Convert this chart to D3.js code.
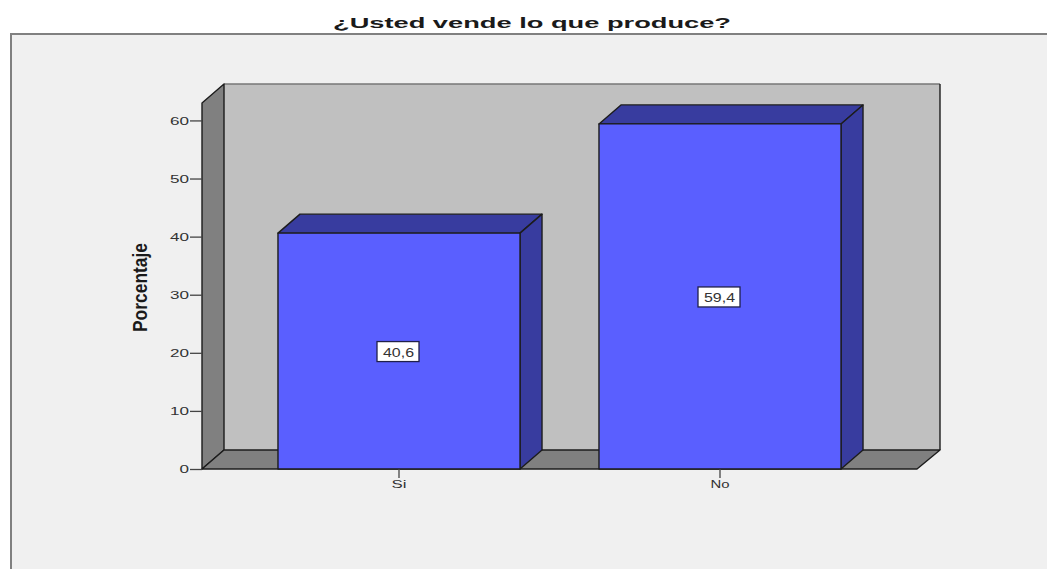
<!DOCTYPE html>
<html>
<head>
<meta charset="utf-8">
<script src="https://cdn.jsdelivr.net/npm/d3@7/dist/d3.min.js"></script>
<style>
  html, body { margin: 0; padding: 0; background: #fff; }
  svg { display: block; }
  text { font-family: "Liberation Sans", Arial, sans-serif; }
</style>
</head>
<body>
<svg id="chart" width="1047" height="569"></svg>
<script>
// Survey answers and their share of respondents
const categories = ["Si", "No"];
const percentages = [40.6, 59.4];
const yTicks = [0, 10, 20, 30, 40, 50, 60];
const yMax = 63;
const chartTitle = "¿Usted vende lo que produce?";
const yTitle = "Porcentaje";

// Layout of the pseudo-3D plot box
const plotLeft = 202, plotRight = 917, plotBase = 469, plotTop = 103;
const depthX = 22, depthY = 19;

const colors = {
  panel: "#f0f0f0", panelEdge: "#808080",
  wall: "#c0c0c0", side: "#808080",
  front: "#5a5fff", shade: "#383c9f",
  line: "#1c1c1c", ink: "#333333"
};

const svg = d3.select("#chart");
const x = d3.scaleBand().domain(categories).range([plotLeft, plotRight])
  .paddingInner(0.246).paddingOuter(0.2367);
const y = d3.scaleLinear().domain([0, yMax]).range([plotBase, plotTop]);

const poly = pts => pts.map(p => p.join(",")).join(" ");

// Panel behind the chart, open on its right and bottom sides
svg.append("rect").attr("x", 11).attr("y", 34).attr("width", 1036).attr("height", 535)
  .attr("fill", colors.panel);
svg.append("path").attr("d", "M11,569V34H1047").attr("fill", "none")
  .attr("stroke", colors.panelEdge).attr("stroke-width", 2);

// Title, stretched wide
svg.append("text").attr("x", 333).attr("y", 28)
  .attr("textLength", 398).attr("lengthAdjust", "spacingAndGlyphs")
  .attr("font-size", 15.5).attr("font-weight", "bold").attr("fill", "#1a1a1a")
  .text(chartTitle);

// Back wall, side wall and floor
const backL = plotLeft + depthX, backR = plotRight + depthX + 1, backB = plotBase - depthY, backT = plotTop - depthY;
const edge = s => s.attr("stroke", colors.line).attr("stroke-width", 1.4).attr("stroke-linejoin", "round");
svg.append("polygon").attr("points", poly([[backL, backT], [backR, backT], [backR, backB], [backL, backB]]))
  .attr("fill", colors.wall).attr("stroke", "none");
svg.append("path").attr("d", `M${backL},${backT}H${backR}`).attr("stroke", "#777").attr("stroke-width", 1.4);
svg.append("path").attr("d", `M${backR},${backT}V${backB}`).attr("stroke", colors.line).attr("stroke-width", 1.4);
svg.append("polygon").attr("points", poly([[plotLeft, plotTop], [backL, backT], [backL, backB], [plotLeft, plotBase]]))
  .attr("fill", colors.side).call(edge);
svg.append("polygon").attr("points", poly([[plotLeft, plotBase], [backL, backB], [backR, backB], [plotRight, plotBase]]))
  .attr("fill", colors.side).call(edge);

// Bars: top face, side face, front face
const bars = svg.append("g").selectAll("g").data(categories).join("g");
const bx = d => x(d), bw = x.bandwidth();
const val = d => percentages[categories.indexOf(d)];
bars.append("polygon").attr("fill", colors.shade).call(edge)
  .attr("points", d => poly([[bx(d), y(val(d))], [bx(d) + depthX, y(val(d)) - depthY],
    [bx(d) + bw + depthX, y(val(d)) - depthY], [bx(d) + bw, y(val(d))]]));
bars.append("polygon").attr("fill", colors.shade).call(edge)
  .attr("points", d => poly([[bx(d) + bw, y(val(d))], [bx(d) + bw + depthX, y(val(d)) - depthY],
    [bx(d) + bw + depthX, plotBase - depthY], [bx(d) + bw, plotBase]]));
bars.append("rect").attr("fill", colors.front).call(edge)
  .attr("x", bx).attr("y", d => y(val(d))).attr("width", bw).attr("height", d => plotBase - y(val(d)));

// Value labels in white boxes at mid-height of each bar
const labels = bars.append("g")
  .attr("transform", d => `translate(${bx(d) + bw / 2 - 1},${y(val(d) / 2) + 0.5})`);
labels.append("rect").attr("x", -21).attr("y", -10).attr("width", 42).attr("height", 20)
  .attr("fill", "#fff").attr("stroke", "#20204a").attr("stroke-width", 1.3);
labels.append("text").attr("x", -15).attr("y", 5)
  .attr("textLength", 31).attr("lengthAdjust", "spacingAndGlyphs")
  .attr("font-size", 12).attr("fill", colors.ink)
  .text(d => val(d).toFixed(1).replace(".", ","));

// Axes
const yAxis = svg.append("g").attr("transform", `translate(${plotLeft},0)`)
  .call(d3.axisLeft(y).tickValues(yTicks).tickSize(12).tickPadding(1).tickFormat(d3.format("d")));
const xAxis = svg.append("g").attr("transform", `translate(0,${plotBase})`)
  .call(d3.axisBottom(x).tickSize(9).tickPadding(2));
[yAxis, xAxis].forEach(a => {
  a.select(".domain").remove();
  a.selectAll(".tick line").attr("stroke", "#444").attr("stroke-width", 1.3);
  a.selectAll(".tick text").attr("fill", colors.ink)
    .attr("font-family", '"Liberation Sans", Arial, sans-serif').attr("font-size", 11.5)
    .attr("lengthAdjust", "spacingAndGlyphs");
});
yAxis.selectAll(".tick text").attr("textLength", d => String(d).length * 9.5);
xAxis.selectAll(".tick text").attr("textLength", d => d === "Si" ? 15 : 19);

// Vertical axis title
svg.append("text")
  .attr("transform", "translate(147,332) rotate(-90)")
  .attr("textLength", 89).attr("lengthAdjust", "spacingAndGlyphs")
  .attr("font-size", 20).attr("font-weight", "bold").attr("fill", "#1a1a1a")
  .text(yTitle);
</script>
</body>
</html>
